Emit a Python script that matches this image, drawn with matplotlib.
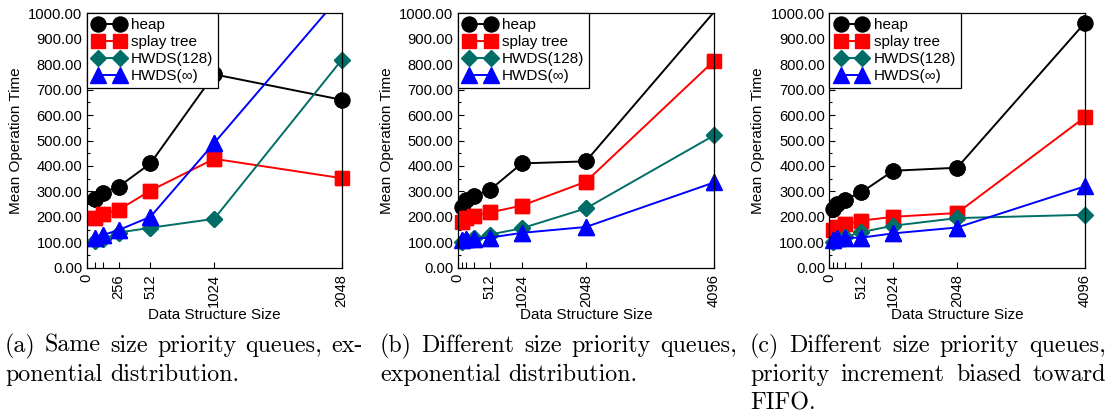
#!/usr/bin/env python
"""
Mean operation time of heap, splay tree and HWDS priority queues
"""
from __future__ import annotations

import matplotlib

matplotlib.use("Agg")
import matplotlib.pyplot as plt
from matplotlib.legend_handler import HandlerLine2D
from matplotlib.ticker import FixedLocator, FormatStrFormatter, MultipleLocator

# Data structure sizes
SIZES_A = [64, 128, 256, 512, 1024, 2048]
SIZES_BC = [64, 128, 256, 512, 1024, 2048, 4096]

# (a) same size queues, exponential distribution
HEAP_A = [270, 295, 318, 410, 760, 660]
SPLAY_A = [194, 212, 227, 303, 428, 352]
HWDS128_A = [105, 111, 138, 157, 192, 817]
HWDSINF_A = [118, 128, 148, 200, 490, 1075]

# (b) different size queues, exponential distribution
HEAP_B = [240, 265, 283, 305, 410, 418, 1005]
SPLAY_B = [178, 195, 205, 217, 244, 338, 813]
HWDS128_B = [102, 108, 115, 130, 155, 233, 520]
HWDSINF_B = [110, 113, 114, 118, 137, 160, 335]

# (c) different size queues, increment biased toward FIFO
HEAP_C = [230, 252, 268, 296, 381, 393, 963]
SPLAY_C = [150, 160, 170, 185, 200, 215, 592]
HWDS128_C = [102, 112, 120, 140, 165, 195, 208]
HWDSINF_C = [110, 115, 117, 118, 135, 158, 320]

SERIES = ["heap", "splay tree", "HWDS(128)", "HWDS(\u221e)"]

XTICKS_A = [0, 64, 128, 256, 512, 1024, 2048]
XLABELS_A = ["0", "", "", "256", "512", "1024", "2048"]
XTICKS_BC = [0, 64, 128, 256, 512, 1024, 2048, 4096]
XLABELS_BC = ["0", "", "", "", "512", "1024", "2048", "4096"]

CAPTIONS = [
    [["(a)", "Same", "size", "priority", "queues,", "ex-"],
     ["ponential", "distribution."]],
    [["(b)", "Different", "size", "priority", "queues,"],
     ["exponential", "distribution."]],
    [["(c)", "Different", "size", "priority", "queues,"],
     ["priority", "increment", "biased", "toward"],
     ["FIFO."]],
]

STYLES = [
    dict(color="black", marker="o", markersize=10.8),
    dict(color="#ff0000", marker="s", markersize=9.6),
    dict(color="#006e66", marker="D", markersize=8.2),
    dict(color="#0000ff", marker="^", markersize=11),
]

W, H = 1109, 417


def panel(fig, rect, sizes, series, xticks, xlabels):
    ax = fig.add_axes(rect)
    for name, ys, st in zip(SERIES, series, STYLES):
        keep = [i for i, v in enumerate(ys) if v <= 1000]
        ax.plot(sizes, ys, lw=1.4, label=name, markevery=keep, **st)
        # markers drawn again unclipped so they can overhang the spines
        ax.plot([sizes[i] for i in keep], [ys[i] for i in keep],
                ls="none", clip_on=False, **st)

    ax.set_xlim(0, sizes[-1])
    ax.set_ylim(0, 1000)
    ax.xaxis.set_major_locator(FixedLocator(xticks))
    ax.set_xticklabels(xlabels, rotation=90)
    ax.yaxis.set_major_locator(MultipleLocator(100))
    ax.yaxis.set_minor_locator(MultipleLocator(50))
    ax.yaxis.set_major_formatter(FormatStrFormatter("%.2f"))
    ax.tick_params(direction="in", length=4, width=0.8, labelsize=10.6,
                   top=False, right=False, pad=3)
    ax.tick_params(axis="x", pad=4.5)
    ax.tick_params(which="minor", direction="in", length=2.5, width=0.8)
    for sp in ax.spines.values():
        sp.set_linewidth(0.9)

    ax.set_xlabel("Data Structure Size", fontsize=11, labelpad=1)
    ax.set_ylabel("Mean Operation Time", fontsize=11, labelpad=4)

    leg = ax.legend(loc="upper left", fontsize=11, numpoints=2,
                    handler_map={plt.Line2D: HandlerLine2D(marker_pad=0.45)},
                    handlelength=2.3, handletextpad=0.3, labelspacing=0.2,
                    borderpad=0.3, borderaxespad=0, fancybox=False,
                    framealpha=1, edgecolor="black")
    leg.get_frame().set_linewidth(0.9)
    return ax


def justified(fig, words, x0, x1, y, justify, **kw):
    renderer = fig.canvas.get_renderer()
    texts = [fig.text(0, y / H, w, va="baseline", ha="left", **kw) for w in words]
    widths = [t.get_window_extent(renderer).width for t in texts]
    space = fig.text(0, 0, "a a", **kw).get_window_extent(renderer).width
    space -= fig.text(0, 0, "aa", **kw).get_window_extent(renderer).width
    fig.texts = fig.texts[:-2]
    if justify and len(words) > 1:
        gap = ((x1 - x0) - sum(widths)) / (len(words) - 1)
    else:
        gap = space
    x = x0
    for t, w in zip(texts, widths):
        t.set_x(x / W)
        x += w + gap


def main() -> None:
    plt.rcParams["font.family"] = ["Liberation Sans", "DejaVu Sans"]

    fig = plt.figure(figsize=(W / 100, H / 100), dpi=100)

    bottom, height = (H - 267.7) / H, 254.4 / H
    panel(fig, [86.7 / W, bottom, 255 / W, height], SIZES_A,
          [HEAP_A, SPLAY_A, HWDS128_A, HWDSINF_A], XTICKS_A, XLABELS_A)
    panel(fig, [457.7 / W, bottom, 256.3 / W, height], SIZES_BC,
          [HEAP_B, SPLAY_B, HWDS128_B, HWDSINF_B], XTICKS_BC, XLABELS_BC)
    panel(fig, [829.3 / W, bottom, 255.7 / W, height], SIZES_BC,
          [HEAP_C, SPLAY_C, HWDS128_C, HWDSINF_C], XTICKS_BC, XLABELS_BC)

    # captions, set in Computer Modern and justified like the paper
    columns = [(5, 363), (380, 737), (750, 1106)]
    baselines = [H - 352, H - 381, H - 410]
    for (x0, x1), lines in zip(columns, CAPTIONS):
        for k, words in enumerate(lines):
            justified(fig, words, x0, x1, baselines[k], k < len(lines) - 1,
                      family="cmr10", fontsize=17.3)

    fig.savefig("out.png", dpi=100)


if __name__ == "__main__":
    main()
